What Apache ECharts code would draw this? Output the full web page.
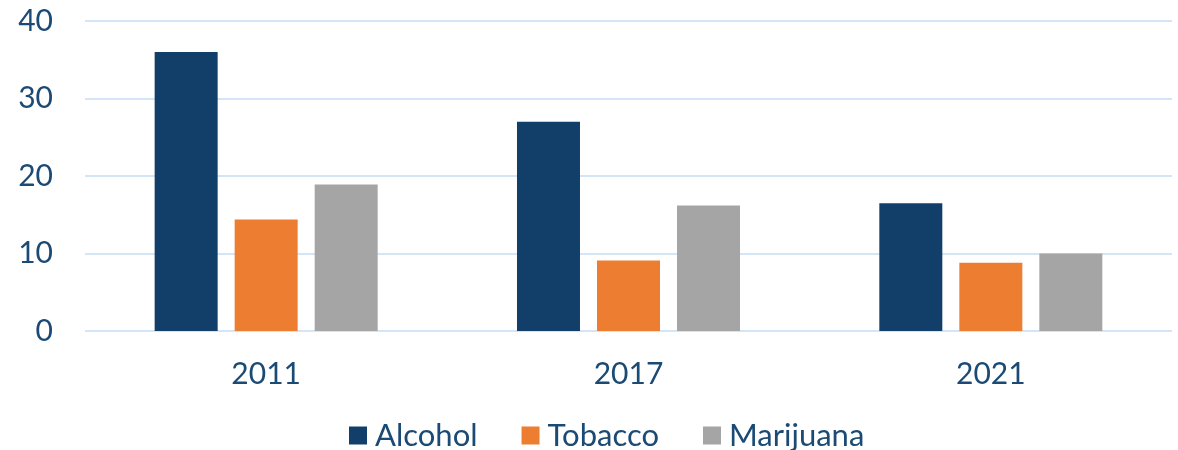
<!DOCTYPE html>
<html>
<head>
<meta charset="utf-8">
<script src="https://cdn.jsdelivr.net/npm/echarts@6/dist/echarts.min.js"></script>
<style>
  html, body { margin: 0; padding: 0; background: #fff; }
  #chart { width: 1178px; height: 450px; }
</style>
</head>
<body>
<div id="chart"></div>
<script>
// categories and series values
const years = ['2011', '2017', '2021']
const alcohol = [36.0, 27.0, 16.5]
const tobacco = [14.4, 9.1, 8.8]
const marijuana = [18.9, 16.2, 10.0]

const textColor = '#1b4a74'
const font = 'Lato, "Open Sans", sans-serif'

const chart = echarts.init(document.getElementById('chart'))

function bar(name, data, color) {
  return {
    name: name,
    type: 'bar',
    barWidth: 63,
    barGap: '27%',
    itemStyle: { color: color },
    data: data,
  }
}

chart.setOption({
  animation: false,
  textStyle: { fontFamily: font },
  grid: { left: 85, right: 6, top: 21, bottom: 119 },
  legend: {
    top: 415,
    left: 344,
    icon: 'rect',
    itemWidth: 18,
    itemHeight: 18,
    itemGap: 44,
    textStyle: { fontSize: 31, color: textColor, fontFamily: font, padding: [0, 0, 0, 3] },
    data: ['Alcohol', 'Tobacco', 'Marijuana'],
  },
  xAxis: {
    type: 'category',
    data: years,
    axisLine: { show: false },
    axisTick: { show: false },
    axisLabel: { fontSize: 30, color: textColor, margin: 28 },
  },
  yAxis: {
    type: 'value',
    min: 0,
    max: 40,
    interval: 10,
    axisLine: { show: false },
    axisTick: { show: false },
    axisLabel: { fontSize: 30, color: textColor, margin: 32 },
    splitLine: { lineStyle: { color: '#d3e5f6', width: 2 } },
  },
  series: [
    bar('Alcohol', alcohol, '#113f69'),
    bar('Tobacco', tobacco, '#ed7d31'),
    bar('Marijuana', marijuana, '#a5a5a5'),
  ],
})
</script>
</body>
</html>
